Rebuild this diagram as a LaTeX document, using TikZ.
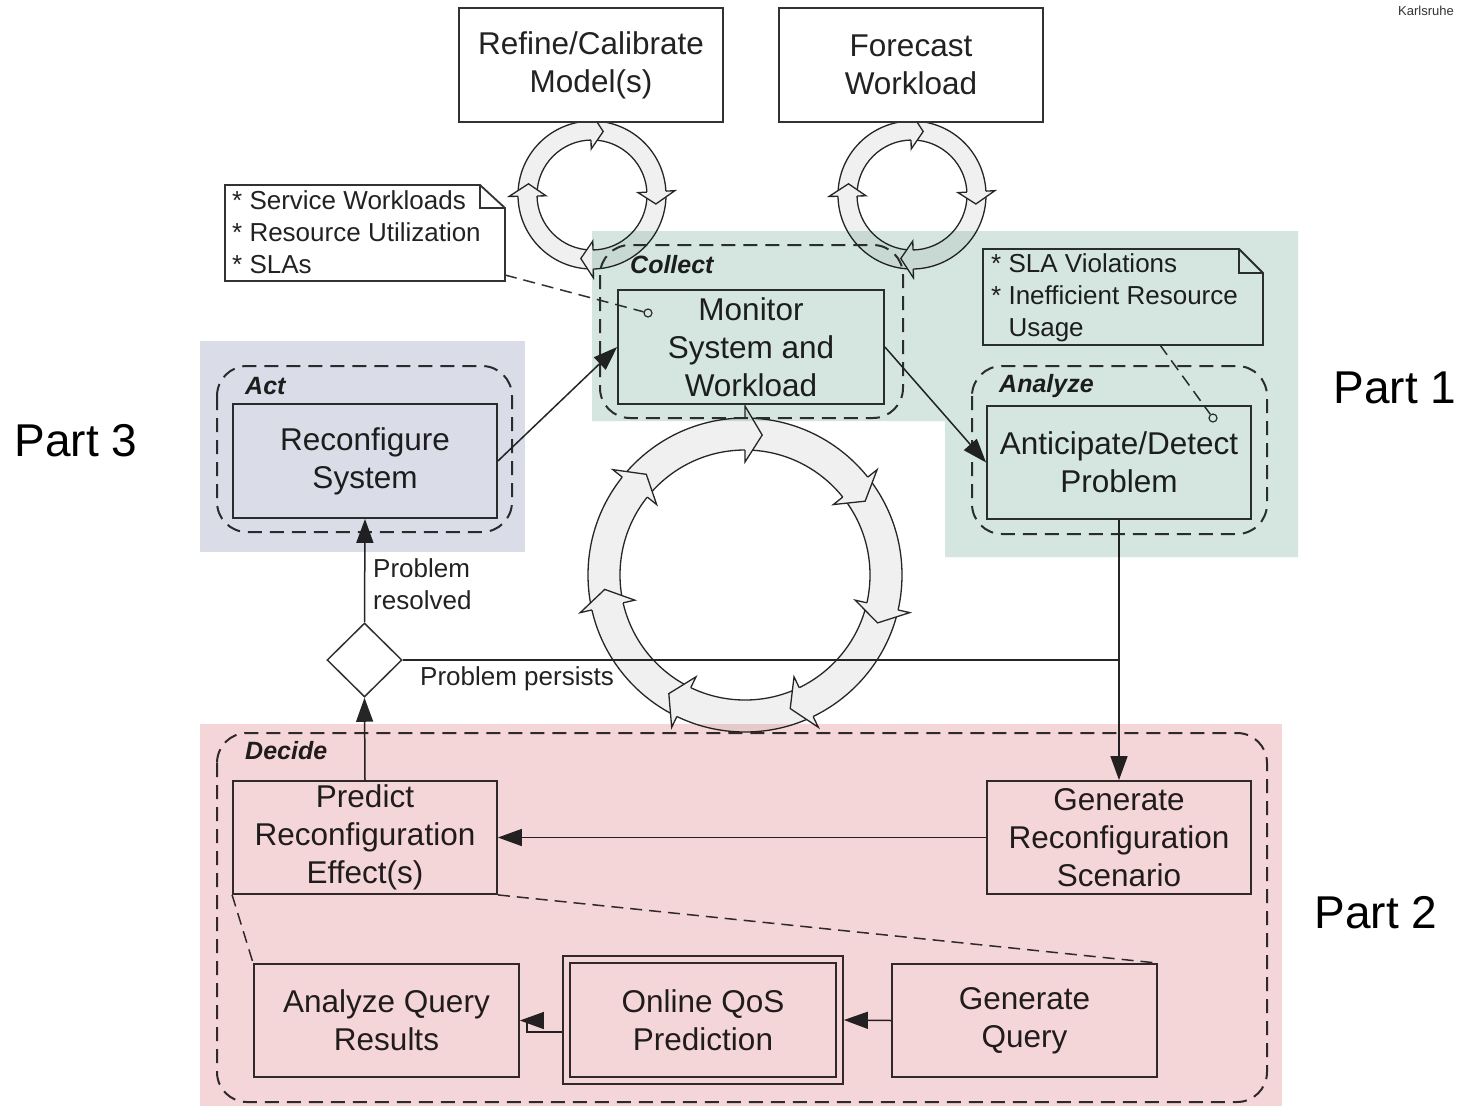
\documentclass[tikz,border=0pt]{standalone}
\usepackage{fontspec}
\setmainfont{Liberation Sans}
\usetikzlibrary{arrows.meta,shapes.geometric,calc}

\definecolor{ln}{RGB}{50,50,50}
\definecolor{tx}{RGB}{34,34,34}
\definecolor{ringfill}{RGB}{240,240,240}
\definecolor{hlgreen}{RGB}{213,230,224}
\definecolor{hlpink}{RGB}{245,214,216}
\definecolor{hlblue}{RGB}{218,221,232}

\newcommand\boxfont{\fontsize{31.5}{38}\selectfont}
\newcommand\notefont{\fontsize{26}{32}\selectfont}
\newcommand\groupfont{\fontsize{25}{30}\selectfont\bfseries\itshape}
\newcommand\partfont{\fontsize{46}{55}\selectfont}

% ring of circular arrows: cx, cy, inner r, outer r, flare, head angle, tip angles
\newcommand\cyclering[7]{%
  \begin{scope}[shift={(#1,#2)}]
    \filldraw[ringline, fill=ringfill, even odd rule]
      (0,0) circle[radius=#4pt] (0,0) circle[radius=#3pt];
    \foreach \rtip in {#7}{%
      \pgfmathsetmacro\rbase{\rtip-#6}%
      \pgfmathsetmacro\rmid{(#3+#4)/2}%
      \pgfmathsetmacro\rout{#4+#5}%
      \pgfmathsetmacro\rin{#3-#5}%
      \fill[ringfill] (\rbase:\rout) -- (\rtip:\rmid) -- (\rbase:\rin) -- cycle;
      \draw[ringline] (\rbase:#4) -- (\rbase:\rout) -- (\rtip:\rmid)
        -- (\rbase:\rin) -- (\rbase:#3);
    }
  \end{scope}}

\tikzset{
  ringline/.style={draw=black!85, line width=1.3pt, line join=miter},
  stepbox/.style={draw=ln, line width=1.8pt, fill=white, text=tx,
    minimum width=264pt, minimum height=114pt, inner sep=0pt,
    align=center, font=\boxfont},
  grp/.style={draw=ln, line width=2pt, dash pattern=on 14pt off 8pt,
    rounded corners=30pt},
  grplabel/.style={anchor=west, inner sep=0pt, text=tx, font=\groupfont},
  notebox/.style={draw=ln, line width=1.8pt, fill=white, line join=miter},
  notetext/.style={anchor=west, inner sep=0pt, align=left, text=tx, font=\notefont},
  notelink/.style={draw=ln, line width=1.5pt, dash pattern=on 12pt off 7pt},
  pin/.style={circle, draw=ln, line width=1.2pt, minimum size=8pt, inner sep=0pt},
  flow/.style={draw=black!85, line width=1.5pt, -{Triangle[length=24pt,width=17pt]}},
  conn/.style={draw=black!85, line width=1.5pt},
  lbl/.style={inner sep=0pt, text=tx, font=\notefont},
  highlight/.style={fill=#1, blend mode=multiply},
}

\begin{document}
\begin{tikzpicture}[x=1pt, y=-1pt]
\useasboundingbox (0,0) rectangle (1462,1106);
\fill[white] (0,0) rectangle (1462,1106);

% the three cycles
\cyclering{592}{195}{55}{74}{9}{11}{-80,8,100,190}
\cyclering{912}{195}{55}{74}{9}{11}{-80,8,100,190}
\cyclering{745}{575}{125}{157}{12}{7}{-83,-31.57,19.86,71.29,122.71,174.14,225.57}

% top activities
\node[stepbox] (ref) at (591,65) {Refine/Calibrate\\Model(s)};
\node[stepbox] (fc)  at (911,65) {Forecast\\Workload};

% phases
\draw[grp] (600,245) rectangle (903,418);
\node[grplabel] (lcol) at (630,265) {Collect};
\draw[grp] (217,366) rectangle (512,532);
\node[grplabel] (lact) at (245,386) {Act};
\draw[grp] (972,366) rectangle (1267,534);
\node[grplabel] (lana) at (999,386) {Analyze};
\draw[grp] (217,733) rectangle (1267,1102);
\node[grplabel] (ldec) at (245,751) {Decide};

\node[stepbox, minimum width=266pt] (mon) at (751,347) {Monitor\\System and\\Workload};
\node[stepbox] (rec) at (365,461) {Reconfigure\\System};
\node[stepbox, minimum height=113pt] (ant) at (1119,462.5) {Anticipate/Detect\\Problem};
\node[stepbox, minimum height=113pt] (pre) at (365,837.5) {Predict\\Reconfiguration\\Effect(s)};
\node[stepbox, minimum height=113pt] (gen) at (1119,837.5) {Generate\\Reconfiguration\\Scenario};
\node[stepbox, minimum width=265pt, minimum height=113pt] (aqr) at (386.5,1020.5) {Analyze Query\\Results};
\node[stepbox, minimum width=265pt, minimum height=113pt] (gq) at (1024.5,1020.5) {Generate\\Query};
\node[stepbox, minimum width=280pt, minimum height=128pt] (qos) at (703,1020) {Online QoS\\Prediction};
\draw[draw=ln, line width=1.8pt] ($(qos.north west)+(8,8)$) rectangle ($(qos.south east)+(-8,-8)$);

% decision
\node[diamond, draw=ln, line width=1.5pt, fill=white, minimum width=75pt,
  minimum height=74pt, inner sep=0pt] (dia) at (364.5,660) {};

% notes
\draw[notebox] (225,185) -- (480,185) -- (505,208) -- (505,281) -- (225,281) -- cycle;
\draw[draw=ln, line width=1.5pt] (480,185) |- (505,208);
\node[notetext] (n1) at (232,232) {* Service Workloads\\* Resource Utilization\\* SLAs};
\coordinate (n1c) at (505,275);

\draw[notebox] (983,249) -- (1239,249) -- (1263,273) -- (1263,345) -- (983,345) -- cycle;
\draw[draw=ln, line width=1.5pt] (1239,249) |- (1263,273);
\node[notetext] (n2) at (991,298) {* SLA Violations\\* Inefficient Resource\\\hphantom{*} Usage};
\coordinate (n2c) at (1160,345);

\node[pin] (mpin) at (648,313) {};
\node[pin] (apin) at (1213,418) {};
\draw[notelink] (n1c) -- (mpin);
\draw[notelink] (n2c) -- (apin);

% flow
\draw[flow] (rec.east) -- (mon.west);
\draw[flow] (mon.east) -- (ant.west);
\draw[conn] (dia.east) -- (dia.east -| gen.north);
\draw[flow] (ant.south) -- (gen.north);
\draw[flow] (gen.west) -- (pre.east);
\draw[flow] (pre.north) -- (dia.south);
\draw[flow] (dia.north) -- (rec.south);
\draw[flow] (gq.west) -- (qos.east);
\draw[flow] ($(qos.west)+(0,12)$) -- ++(-35,0) |- (aqr.east);

\node[lbl, anchor=west, align=left] (lres) at (373,584) {Problem\\resolved};
\node[lbl] (lper) at (517,679) {Problem persists};

% refinement of the prediction step
\draw[notelink] (pre.south west) -- (aqr.north west);
\draw[notelink] (pre.south east) -- (gq.north east);

% highlighted parts
\fill[highlight=hlblue] (200,341) rectangle (525,552);
\fill[highlight=hlgreen] (592,231) -- (1298,231) -- (1298,557) -- (945,557)
  -- (945,421) -- (592,421) -- cycle;
\fill[highlight=hlpink] (200,724) rectangle (1282,1106);

\node[font=\partfont, text=black, inner sep=0pt] (p1) at (1395,388) {Part 1};
\node[font=\partfont, text=black, inner sep=0pt] (p2) at (1376,913) {Part 2};
\node[font=\partfont, text=black, inner sep=0pt] (p3) at (76,441) {Part 3};

\node[font=\fontsize{13}{15}\selectfont, text=black!80, inner sep=0pt] (kit) at (1426,11) {Karlsruhe};
\end{tikzpicture}
\end{document}
